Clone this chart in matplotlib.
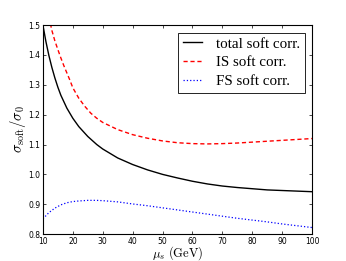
import numpy as np
import matplotlib
matplotlib.use('Agg')
import matplotlib.pyplot as plt

plt.rcParams['mathtext.fontset'] = 'cm'
plt.rcParams['xtick.direction'] = 'in'
plt.rcParams['ytick.direction'] = 'in'
plt.rcParams['xtick.top'] = True
plt.rcParams['ytick.right'] = True

# values
mu_tot = [10, 11, 12, 13, 14, 15, 16, 18, 20, 22, 25, 28, 30, 35, 40, 45,
          50, 55, 60, 65, 70, 75, 80, 85, 90, 95, 100]
total = [1.500, 1.445, 1.398, 1.358, 1.323, 1.292, 1.265, 1.222, 1.188, 1.160,
         1.127, 1.100, 1.085, 1.055, 1.033, 1.015, 1.000, 0.988, 0.977, 0.968,
         0.961, 0.956, 0.952, 0.948, 0.946, 0.944, 0.942]

mu_is = [12.5, 13, 14, 15, 16, 17, 18, 19, 20, 22, 24, 26, 28, 30, 35, 40,
         45, 50, 55, 60, 65, 70, 75, 80, 85, 90, 95, 100]
is_soft = [1.505, 1.482, 1.447, 1.418, 1.390, 1.364, 1.340, 1.316, 1.290, 1.255,
           1.228, 1.205, 1.188, 1.174, 1.150, 1.133, 1.121, 1.112, 1.106, 1.103,
           1.102, 1.103, 1.105, 1.108, 1.111, 1.114, 1.117, 1.120]

mu_fs = [10, 12, 14, 16, 18, 20, 22, 25, 28, 30, 35, 40, 45, 50, 55, 60, 65,
         70, 75, 80, 85, 90, 95, 100]
fs_soft = [0.851, 0.872, 0.887, 0.898, 0.905, 0.909, 0.911, 0.913, 0.913, 0.912,
           0.908, 0.901, 0.895, 0.888, 0.881, 0.874, 0.867, 0.860, 0.853, 0.847,
           0.841, 0.834, 0.828, 0.822]

fig = plt.figure(figsize=(3.46, 2.61), dpi=100)
ax = fig.add_axes([0.124, 0.103, 0.778, 0.801])

ax.plot(mu_tot, total, 'k-', lw=1.0, label='total soft corr.')
ax.plot(mu_is, is_soft, 'r--', lw=1.0, dashes=(3, 2), label='IS soft corr.')
ax.plot(mu_fs, fs_soft, 'b:', lw=0.9, label='FS soft corr.')

ax.set_xlim(10, 100)
ax.set_ylim(0.8, 1.5)
ax.set_xticks(np.arange(10, 101, 10))
ax.set_yticks(np.arange(0.8, 1.51, 0.1))
ax.tick_params(labelsize=5.5, length=2.5, width=0.5, pad=2)
for s in ax.spines.values():
    s.set_linewidth(0.8)

ax.set_xlabel(r'$\mu_s\ \mathrm{(GeV)}$', fontsize=9)
ax.xaxis.set_label_coords(0.5, -0.05)
ax.set_ylabel(r'$\sigma_{\mathrm{soft}}/\sigma_0$', fontsize=10.5, labelpad=0)

leg = ax.legend(loc='upper right', prop={'family': 'Liberation Serif', 'size': 10.8},
                fancybox=False, framealpha=1, edgecolor='k',
                handlelength=1.3, borderpad=0.3, labelspacing=0.35,
                handletextpad=0.9, borderaxespad=0.5)
leg.get_frame().set_linewidth(0.6)

fig.savefig('out.png', dpi=100)
